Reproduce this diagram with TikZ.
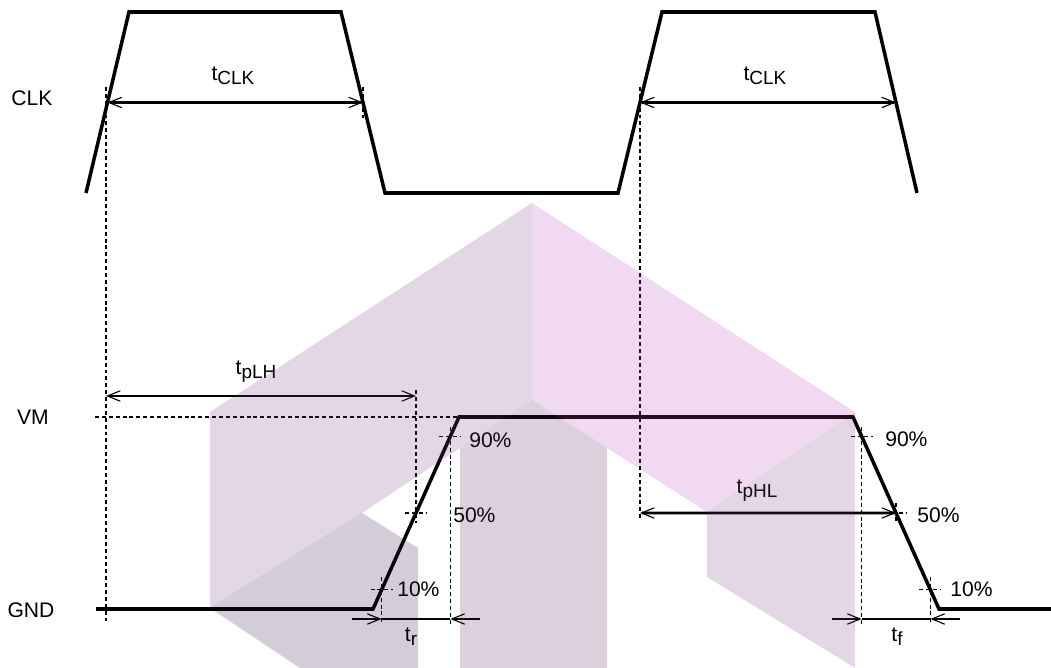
\documentclass[tikz,border=0pt]{standalone}
\usepackage{fontspec}
\setmainfont{Liberation Sans}
\usepackage{xcolor}
\usetikzlibrary{arrows.meta,calc,positioning}

\definecolor{wmleft}{rgb}{0.45,0.22,0.49}
\definecolor{wmpink}{rgb}{0.75,0.26,0.75}
\definecolor{wmdark}{rgb}{0.14,0.0,0.26}
\definecolor{wmmid}{rgb}{0.33,0.08,0.33}

\newcommand{\lowsub}[1]{\raisebox{-0.35ex}{\fontsize{13.5}{15}\selectfont #1}}

\tikzset{
  signal/.style={line width=2.5pt, line join=miter},
  guide/.style={line width=0.9pt, dash pattern=on 2.8pt off 2.1pt},
  dimline/.style={line width=1.8pt},
  barb/.tip={Straight Barb[length=3.2mm,width=2.6mm,line width=0.8pt]},
  lbl/.style={font=\fontsize{15}{17}\selectfont, inner sep=0pt},
  wm/.style={fill opacity=0.2, draw=none},
}

\begin{document}
\begin{tikzpicture}[x=0.025cm, y=-0.025cm]
\useasboundingbox (0,0) rectangle (1051,668);

% horloge
\coordinate (c0) at (86,193); \coordinate (c1) at (129,12);
\coordinate (c2) at (341,12); \coordinate (c3) at (385,193);
\coordinate (c4) at (618,193); \coordinate (c5) at (662,12);
\coordinate (c6) at (875,12); \coordinate (c7) at (917,193);
\draw[signal] (c0) -- (c1) -- (c2) -- (c3) -- (c4) -- (c5) -- (c6) -- (c7);

\coordinate (k1) at ($(c0)!0.5!(c1)$); \coordinate (k2) at ($(c2)!0.5!(c3)$);
\coordinate (k3) at ($(c4)!0.5!(c5)$); \coordinate (k4) at ($(c6)!0.5!(c7)$);

% sortie
\coordinate (g0) at (96,609);
\coordinate (rs) at (373,609); \coordinate (re) at (459,417);
\coordinate (fs) at (853,417); \coordinate (fe) at (939,609);
\coordinate (g1) at (1051,609);
\draw[signal] (g0) -- (rs) -- (re) -- (fs) -- (fe) -- (g1);

\coordinate (r10) at ($(rs)!0.1!(re)$); \coordinate (r50) at ($(rs)!0.5!(re)$); \coordinate (r90) at ($(rs)!0.9!(re)$);
\coordinate (f90) at ($(fs)!0.1!(fe)$); \coordinate (f50) at ($(fs)!0.5!(fe)$); \coordinate (f10) at ($(fs)!0.9!(fe)$);

% lignes de repere
\draw[guide] (95,417) -- (re);
\draw[guide] (106,87) -- (106,622);
\draw[guide] (640,87) -- (640,520);
\draw[guide] (363,87) -- (363,118);
\draw[guide] (r50 |- 0,390) -- (r50 |- 0,523);
\draw[guide] (r90 |- 0,427) -- (r90 |- 0,625);
\draw[guide] (r10 |- 0,577) -- (r10 |- 0,625);
\draw[guide] (f90 |- 0,427) -- (f90 |- 0,625);
\draw[guide] (f50 |- 0,503) -- (f50 |- 0,523);
\draw[guide] (f10 |- 0,577) -- (f10 |- 0,625);
\foreach \p in {r10,r50,r90,f90,f50,f10}
  \draw[guide] ($(\p)+(-11,0)$) -- ($(\p)+(11,0)$);

% cotes
\draw[dimline, barb-barb] (k1) -- (k2);
\draw[dimline, barb-barb] (k3) -- (k4);
\coordinate (plh) at (106,396);
\draw[dimline, barb-barb] (plh) -- (plh -| r50);
\coordinate (phl) at (640,513);
\draw[dimline, barb-barb] (phl) -- (f50);

\coordinate (tra) at (352,619); \coordinate (trb) at (480,619);
\draw[dimline, -barb] (tra) -- (tra -| r10);
\draw[line width=0.8pt] (tra -| r10) -- (trb -| r90);
\draw[dimline, -barb] (trb) -- (trb -| r90);
\coordinate (tfa) at (832,619); \coordinate (tfb) at (960,619);
\draw[dimline, -barb] (tfa) -- (tfa -| f90);
\draw[line width=0.8pt] (tfa -| f90) -- (tfb -| f10);
\draw[dimline, -barb] (tfb) -- (tfb -| f10);

% textes
\node[lbl] (lclk) at (32,98) {CLK};
\node[lbl] (lvm) at (33,417) {VM};
\node[lbl] (lgnd) at (31,610) {GND};
\node[lbl] (tclka) at (233,76) {t\lowsub{CLK}};
\node[lbl] (tclkb) at (765,76) {t\lowsub{CLK}};
\node[lbl] (tplh) at (256,372) {t\lowsub{pLH}};
\node[lbl] (tphl) at (757,491) {t\lowsub{pHL}};
\node[lbl] (ttr) at (411,637) {t\lowsub{r}};
\node[lbl] (ttf) at (897,637) {t\lowsub{f}};

\node[lbl, anchor=west] (pr90) at (469,440) {90\%};
\node[lbl, anchor=west] (pr50) at (453,515) {50\%};
\node[lbl, anchor=west] (pr10) at (397,589) {10\%};
\node[lbl, anchor=west] (pf90) at (885,439) {90\%};
\node[lbl, anchor=west] (pf50) at (917,515) {50\%};
\node[lbl, anchor=west] (pf10) at (950,589) {10\%};

% filigrane
\fill[wm, wmleft] (532,203) -- (210,412) -- (210,608) -- (362,513) -- (532,400) -- cycle;
\fill[wm, wmdark] (362,513) -- (210,608) -- (300,668) -- (418,668) -- (418,548) -- cycle;
\fill[wm, wmmid] (532,400) -- (460,448) -- (460,668) -- (607,668) -- (607,448) -- cycle;
\fill[wm, wmpink] (532,203) -- (855,412) -- (707,512) -- (532,400) -- cycle;
\fill[wm, wmleft] (707,512) -- (855,412) -- (855,668) -- (707,577) -- cycle;

\end{tikzpicture}
\end{document}
